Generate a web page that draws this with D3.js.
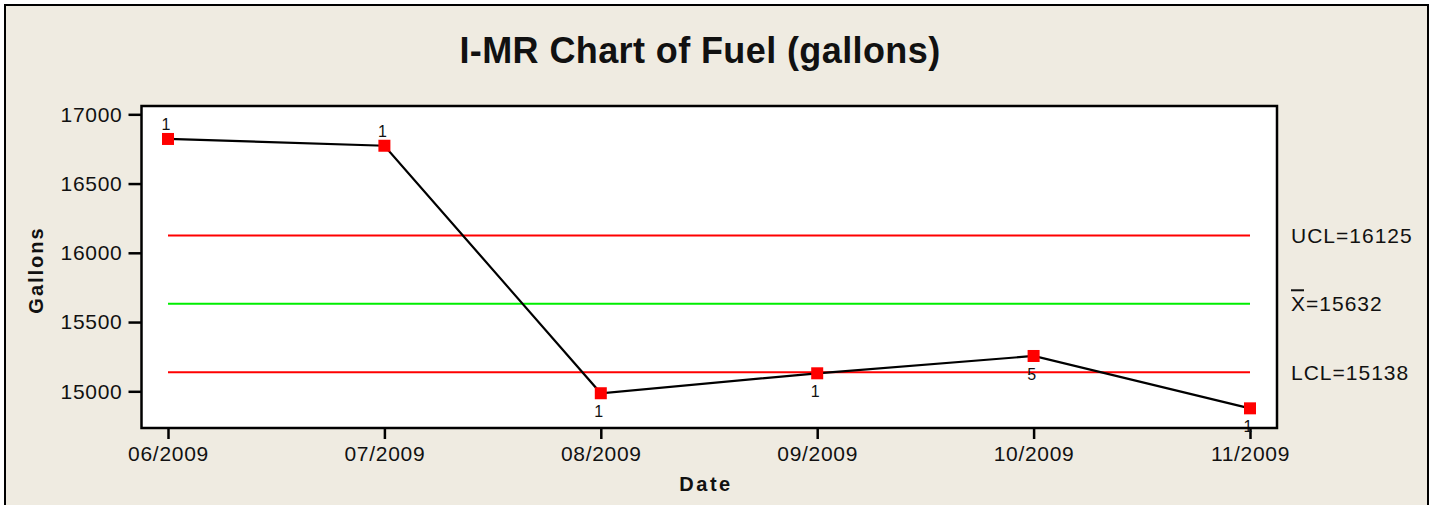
<!DOCTYPE html>
<html lang="en">
<head>
    <meta charset="UTF-8">
    <title>I-MR Chart of Fuel</title>
    <script src="https://d3js.org/d3.v7.min.js"></script>
    <style>
        body{
            margin: 0;
            background: #fff;
        }
        text{
            font-family: "Liberation Sans", Arial, sans-serif;
            fill: #111;
        }
    </style>
</head>
<body>
    <div id="chart"></div>
    <script>
        // data
        var dates = ["06/2009", "07/2009", "08/2009", "09/2009", "10/2009", "11/2009"];
        var gallons = [16822, 16773, 14986, 15130, 15255, 14877];
        var testLabels = ["1", "1", "1", "1", "5", "1"];
        var labelAbove = [true, true, false, false, false, false];
        var yTicks = [15000, 15500, 16000, 16500, 17000];
        var limitNames = ["UCL", "X", "LCL"];
        var limitValues = [16125, 15632, 15138];
        var limitColors = ["#ff0000", "#00ee00", "#ff0000"];

        var W = 1437, H = 505;
        var plot = {left: 141.5, right: 1277, top: 106, bottom: 428};
        var bg = "#efebe1";

        var svg = d3.select("#chart").append("svg")
            .attr("width", W)
            .attr("height", H);

        // outer frame
        svg.append("rect")
            .attr("x", 5).attr("y", 5)
            .attr("width", 1423).attr("height", 530)
            .attr("fill", bg)
            .attr("stroke", "#000")
            .attr("stroke-width", 2);

        var x = d3.scalePoint()
            .domain(dates)
            .range([168, 1250]);

        var y = d3.scaleLinear()
            .domain([14735, 17060])
            .range([plot.bottom, plot.top]);

        // plot area
        svg.append("rect")
            .attr("x", plot.left).attr("y", plot.top)
            .attr("width", plot.right - plot.left)
            .attr("height", plot.bottom - plot.top)
            .attr("fill", "#fff");

        // axes
        var yAxis = svg.append("g")
            .attr("transform", "translate(" + plot.left + ",0)")
            .call(d3.axisLeft(y).tickValues(yTicks).tickSize(13).tickPadding(6).tickFormat(d3.format("d")));
        var xAxis = svg.append("g")
            .attr("transform", "translate(0," + plot.bottom + ")")
            .call(d3.axisBottom(x).tickSize(11).tickPadding(7));
        [yAxis, xAxis].forEach(function(g){
            g.select(".domain").remove();
            g.selectAll(".tick line").attr("stroke", "#000").attr("stroke-width", 2.5);
            g.selectAll(".tick text")
                .attr("fill", "#111")
                .style("font-family", '"Liberation Sans", Arial, sans-serif')
                .style("font-size", "21px")
                .style("letter-spacing", "0.7px");
        });

        // control lines
        svg.append("g").selectAll("line")
            .data(limitValues)
            .enter()
            .append("line")
            .attr("x1", x(dates[0]))
            .attr("x2", x(dates[dates.length - 1]))
            .attr("y1", function(d){ return y(d); })
            .attr("y2", function(d){ return y(d); })
            .attr("stroke", function(d, i){ return limitColors[i]; })
            .attr("stroke-width", 2);

        // limit labels
        var lbl = svg.append("g").selectAll("text")
            .data(limitValues)
            .enter()
            .append("text")
            .attr("x", 1291)
            .attr("y", function(d){ return y(d) + 7.5; })
            .style("font-size", "21px")
            .style("letter-spacing", "1px")
            .text(function(d, i){ return limitNames[i] + "=" + d; });

        // bar over the X of the mean label
        var meanText = lbl.filter(function(d, i){ return i == 1; });
        var xw = meanText.node().getSubStringLength(0, 1);
        svg.append("line")
            .attr("x1", 1291).attr("x2", 1291 + xw - 2)
            .attr("y1", y(limitValues[1]) - 13.5)
            .attr("y2", y(limitValues[1]) - 13.5)
            .attr("stroke", "#111")
            .attr("stroke-width", 2);

        // data line
        var line = d3.line()
            .x(function(d, i){ return x(dates[i]); })
            .y(function(d){ return y(d); });
        svg.append("path")
            .datum(gallons)
            .attr("d", line)
            .attr("fill", "none")
            .attr("stroke", "#000")
            .attr("stroke-width", 2.2);

        svg.append("g").selectAll("rect")
            .data(gallons)
            .enter()
            .append("rect")
            .attr("x", function(d, i){ return x(dates[i]) - 6; })
            .attr("y", function(d){ return y(d) - 6; })
            .attr("width", 12)
            .attr("height", 12)
            .attr("fill", "#ff0000");

        svg.append("g").selectAll("text")
            .data(gallons)
            .enter()
            .append("text")
            .attr("x", function(d, i){ return x(dates[i]) - 2; })
            .attr("y", function(d, i){ return labelAbove[i] ? y(d) - 9 : y(d) + 24; })
            .attr("text-anchor", "middle")
            .style("font-size", "16px")
            .text(function(d, i){ return testLabels[i]; });

        // plot border on top
        svg.append("rect")
            .attr("x", plot.left).attr("y", plot.top)
            .attr("width", plot.right - plot.left)
            .attr("height", plot.bottom - plot.top)
            .attr("fill", "none")
            .attr("stroke", "#000")
            .attr("stroke-width", 2.5);

        // titles
        svg.append("text")
            .attr("x", 700).attr("y", 63)
            .attr("text-anchor", "middle")
            .style("font-size", "36px")
            .style("font-weight", "bold")
            .style("letter-spacing", "0.4px")
            .text("I-MR Chart of Fuel (gallons)");

        svg.append("text")
            .attr("transform", "translate(43,270) rotate(-90)")
            .attr("text-anchor", "middle")
            .style("font-size", "20px")
            .style("font-weight", "bold")
            .style("letter-spacing", "2px")
            .text("Gallons");

        svg.append("text")
            .attr("x", 706).attr("y", 491)
            .attr("text-anchor", "middle")
            .style("font-size", "20px")
            .style("font-weight", "bold")
            .style("letter-spacing", "2.5px")
            .text("Date");
    </script>
</body>
</html>
